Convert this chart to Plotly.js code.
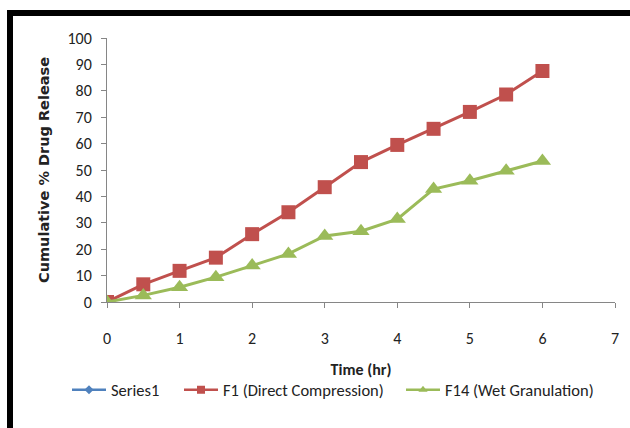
<!DOCTYPE html>
<html>
<head>
<meta charset="utf-8">
<script src="https://cdn.plot.ly/plotly-3.0.1.min.js"></script>
<style>
html,body{margin:0;padding:0;background:#fff;}
#chart{width:630px;height:428px;}
</style>
</head>
<body>
<div id="chart"></div>
<script>
const time = [0, 0.5, 1, 1.5, 2, 2.5, 3, 3.5, 4, 4.5, 5, 5.5, 6];
const series1X = [0];
const series1Y = [0];
const f1Release = [0, 6.7, 11.8, 16.8, 25.7, 34, 43.5, 53, 59.5, 65.6, 72, 78.6, 87.5];
const f14Release = [0, 2.5, 5.6, 9.4, 13.8, 18.2, 25, 26.8, 31.4, 42.8, 45.9, 49.7, 53.4];
const seriesNames = ["Series1", "F1 (Direct Compression)", "F14 (Wet Granulation)"];
const seriesColors = ["#4F81BD", "#C0504D", "#9BBB59"];
const seriesSymbols = ["diamond", "square", "triangle-up"];
const xTicks = [0, 1, 2, 3, 4, 5, 6, 7];
const yTicks = [0, 10, 20, 30, 40, 50, 60, 70, 80, 90, 100];

const narrow = "Carlito, Lato, sans-serif";

const L = 107, R = 15, T = 38, B = 126;
const pw = 630 - L - R, ph = 428 - T - B;
const px = v => (v - L) / pw;
const py = v => (428 - B - v) / ph;

const dataY = [series1Y, f1Release, f14Release];
const dataX = [series1X, time, time];
const markerSizes = [8, 14, 15];
const traces = [];
for (let i = 0; i < 3; i++) {
  traces.push({x: dataX[i], y: dataY[i], name: seriesNames[i], mode: "lines+markers", showlegend: false,
    line: {color: seriesColors[i], width: 3}, marker: {symbol: seriesSymbols[i], size: markerSizes[i], color: seriesColors[i]}});
}
const legendKeys = ["legend", "legend2", "legend3"];
const legendSizes = [7, 8, 8];
for (let i = 0; i < 3; i++) {
  traces.push({x: [null], y: [null], name: seriesNames[i], mode: "lines+markers", legend: legendKeys[i],
    line: {color: seriesColors[i], width: 2.5}, marker: {symbol: seriesSymbols[i], size: legendSizes[i], color: seriesColors[i]}});
}

const legendBase = {orientation: "h", yanchor: "middle", y: py(390), xanchor: "left", itemwidth: 34,
  font: {family: narrow, size: 16.5, color: "#222"}, bgcolor: "rgba(0,0,0,0)", borderwidth: 0};

const layout = {
  width: 630, height: 428,
  margin: {l: L, r: R, t: T, b: B},
  paper_bgcolor: "#fff", plot_bgcolor: "#fff",
  showlegend: true,
  legend: Object.assign({}, legendBase, {x: px(67)}),
  legend2: Object.assign({}, legendBase, {x: px(179)}),
  legend3: Object.assign({}, legendBase, {x: px(401)}),
  xaxis: {range: [0, 7], tickvals: xTicks, ticktext: xTicks.map(String),
          showgrid: false, zeroline: false, showline: true, linecolor: "#868686", linewidth: 1,
          ticks: "outside", ticklen: 5, tickcolor: "#868686", ticklabelstandoff: 17,
          tickfont: {family: narrow, size: 16, color: "#222"},
          title: {text: "<b>Time (hr)</b>", font: {family: narrow, size: 16, color: "#222"}, standoff: 16},
          fixedrange: true},
  yaxis: {range: [0, 100], tickvals: yTicks, ticktext: yTicks.map(String),
          showgrid: false, zeroline: false, showline: true, linecolor: "#868686", linewidth: 1,
          ticks: "outside", ticklen: 5, tickcolor: "#868686", ticklabelstandoff: 6,
          tickfont: {family: narrow, size: 16, color: "#222"},
          title: {text: "<b>Cumulative % Drug Release</b>", font: {family: "'DejaVu Sans', sans-serif", size: 14.5, color: "#222"}, standoff: 14},
          fixedrange: true},
  shapes: [
    {type: "rect", xref: "paper", yref: "paper",
     x0: px(10), x1: px(660), y0: py(470), y1: py(13),
     line: {color: "#000", width: 6}, fillcolor: "rgba(0,0,0,0)", layer: "above"}
  ]
};

Plotly.newPlot("chart", traces, layout, {displayModeBar: false, staticPlot: true});
</script>
</body>
</html>
